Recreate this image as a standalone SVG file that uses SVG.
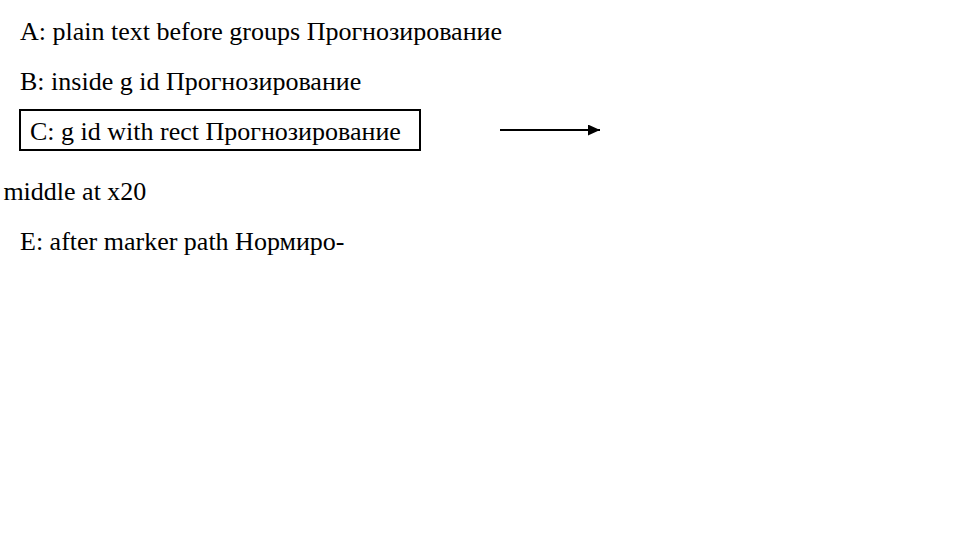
<svg xmlns="http://www.w3.org/2000/svg" width="976" height="557" viewBox="0 0 976 557">
<style>
.box{fill:#fff;stroke:#000;stroke-width:2}
.c{fill:none;stroke:#000;stroke-width:1.8}
</style>
<defs>
<marker id="ah" markerUnits="userSpaceOnUse" markerWidth="13" markerHeight="11" refX="12" refY="5.5" orient="auto">
<path d="M0,0 L12,5.5 L0,11 z" fill="#000"/>
</marker>
</defs>
<rect width="976" height="557" fill="#fff"/>
<text x="20" y="40" font-family="Liberation Serif" font-size="26">A: plain text before groups Прогнозирование</text>
<g id="n1"><text x="20" y="90" font-family="Liberation Serif" font-size="26">B: inside g id Прогнозирование</text></g>
<g id="n2"><rect class="box" x="20" y="110" width="400" height="40"/><text x="30" y="140" font-family="Liberation Serif" font-size="26">C: g id with rect Прогнозирование</text></g>
<g id="connectors"><path class="c" d="M500,130 H600" marker-end="url(#ah)"/></g>
<text x="20" y="200" font-family="Liberation Serif" font-size="26" text-anchor="middle">D: anchor middle at x20</text>
<text x="20" y="250" font-family="Liberation Serif" font-size="26">E: after marker path Нормиро-</text>
</svg>
